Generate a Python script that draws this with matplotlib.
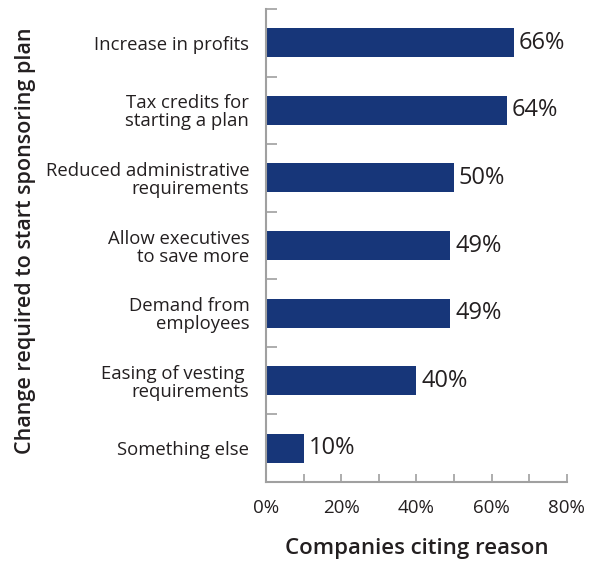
import matplotlib
matplotlib.use("Agg")
import matplotlib.pyplot as plt
from matplotlib.ticker import MultipleLocator, FixedLocator, FuncFormatter

categories = [
    "Increase in profits",
    "Tax credits for\nstarting a plan",
    "Reduced administrative\nrequirements",
    "Allow executives\nto save more",
    "Demand from\nemployees",
    "Easing of vesting \nrequirements",
    "Something else",
]
values = [66, 64, 50, 49, 49, 40, 10]
x_ticks = [0, 20, 40, 60, 80]

plt.rcParams["font.family"] = ["Open Sans", "DejaVu Sans"]

bar_color = "#173679"
text_color = "#231f20"
axis_color = "#a0a0a0"

fig = plt.figure(figsize=(5.91, 5.62), dpi=100)
ax = fig.add_axes([0.450, 0.1423, 0.509, 0.8417])

pos = list(range(len(categories)))
ax.barh(pos, values, height=0.43, color=bar_color, zorder=2)

for p, v in zip(pos, values):
    ax.text(v + 1.3, p, f"{v}%", va="center", ha="left",
            fontsize=17, color=text_color)

ax.set_xlim(0, 80)
ax.set_ylim(len(categories) - 0.5, -0.5)

ax.xaxis.set_major_locator(FixedLocator(x_ticks))
ax.xaxis.set_minor_locator(MultipleLocator(10))
ax.xaxis.set_major_formatter(FuncFormatter(lambda x, _: f"{x:.0f}%"))
ax.tick_params(axis="x", which="both", direction="in", length=6,
               width=1.2, color=axis_color, labelsize=13.5,
               labelcolor=text_color, pad=12)

ax.set_yticks(pos)
ax.set_yticklabels(categories, fontsize=13.3, color=text_color,
                   linespacing=1.0)
ax.yaxis.set_minor_locator(FixedLocator([i - 0.5 for i in pos]))
ax.tick_params(axis="y", which="major", length=0, pad=12)
ax.tick_params(axis="y", which="minor", direction="in", length=8,
               width=1.2, color=axis_color)

for side in ("top", "right"):
    ax.spines[side].set_visible(False)
for side in ("left", "bottom"):
    ax.spines[side].set_color(axis_color)
    ax.spines[side].set_linewidth(1.5)

ax.set_xlabel("Companies citing reason", fontsize=16, fontweight="semibold",
              color=text_color, labelpad=15)
fig.text(0.043, 0.571, "Change required to start sponsoring plan",
         rotation=90, ha="center", va="center", fontsize=15.5,
         fontweight="semibold", color=text_color)

fig.savefig("out.png", dpi=100)
